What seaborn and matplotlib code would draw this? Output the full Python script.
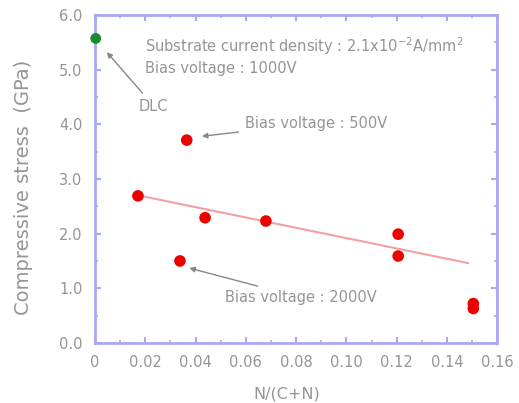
import numpy as np
import pandas as pd
import matplotlib
matplotlib.use("Agg")
import matplotlib.pyplot as plt
import seaborn as sns
from matplotlib.ticker import MultipleLocator, FixedLocator

# Data
dlc_x = [0.0003]
dlc_y = [5.57]
red_x = [0.0365, 0.0171, 0.0438, 0.068, 0.1206, 0.1206, 0.0338, 0.1505, 0.1505]
red_y = [3.71, 2.69, 2.29, 2.23, 1.99, 1.59, 1.50, 0.72, 0.63]
trend_x = [0.0171, 0.1485]
trend_y = [2.70, 1.46]
x_ticks = [0, 0.02, 0.04, 0.06, 0.08, 0.10, 0.12, 0.14, 0.16]
x_labels = ["0", "0.02", "0.04", "0.06", "0.08", "0.10", "0.12", "0.14", "0.16"]
y_ticks = [0, 1, 2, 3, 4, 5, 6]
y_labels = ["0.0", "1.0", "2.0", "3.0", "4.0", "5.0", "6.0"]

sns.set_style("white")
plt.rcParams['font.family'] = ['DejaVu Sans']

fig = plt.figure(figsize=(5.19, 4.03), dpi=100)
ax = fig.add_axes([0.183, 0.149, 0.775, 0.814])

spine_c = "#a8a8f4"
text_c = "#959595"

sns.lineplot(x=trend_x, y=trend_y, ax=ax, color="#f4a0a0", linewidth=1.5)
sns.scatterplot(x=red_x, y=red_y, ax=ax, color="#ee0000", s=70, edgecolor="none", zorder=3)
sns.scatterplot(x=dlc_x, y=dlc_y, ax=ax, color="#1a8a2a", s=60, edgecolor="none", zorder=4, clip_on=False)

ax.set_xlim(0, 0.16)
ax.set_ylim(0, 6)
ax.xaxis.set_major_locator(FixedLocator(x_ticks))
ax.set_xticklabels(x_labels)
ax.yaxis.set_major_locator(FixedLocator(y_ticks))
ax.set_yticklabels(y_labels)
ax.xaxis.set_minor_locator(MultipleLocator(0.01))
ax.yaxis.set_minor_locator(MultipleLocator(0.5))

for s in ax.spines.values():
    s.set_color(spine_c)
    s.set_linewidth(2)
    s.set_visible(True)

ax.tick_params(which="both", direction="in", color=spine_c, top=True, right=True,
               bottom=True, left=True, labelcolor=text_c, labelsize=10.5)
ax.tick_params(which="major", length=4, width=1.5)
ax.tick_params(which="minor", length=2.5, width=1.2)
ax.tick_params(axis="x", pad=9)
ax.tick_params(axis="y", pad=9)

ax.set_xlabel("N/(C+N)", color=text_c, fontsize=11.5)
ax.xaxis.set_label_coords(0.478, -0.132)
ax.set_ylabel("Compressive stress  (GPa)", color=text_c, fontsize=14)
ax.yaxis.set_label_coords(-0.155, 0.475)

tkw = dict(color=text_c, fontsize=10.5)
ax.text(0.0198, 5.33, "Substrate current density : 2.1x10$^{-2}$A/mm$^{2}$", **tkw)
ax.text(0.0198, 4.93, "Bias voltage : 1000V", **tkw)

akw = dict(arrowstyle="-|>", color="#888888", lw=1, mutation_scale=8, shrinkA=2, shrinkB=0)
ax.annotate("DLC", xy=(0.0047, 5.32), xytext=(0.0175, 4.25), fontsize=10.5, color=text_c,
            arrowprops=akw)
ax.annotate("Bias voltage : 500V", xy=(0.0425, 3.78), xytext=(0.0595, 4.02), fontsize=10.5, color=text_c,
            arrowprops=akw, va="center")
ax.annotate("Bias voltage : 2000V", xy=(0.0375, 1.37), xytext=(0.0518, 0.83), fontsize=10.5, color=text_c,
            arrowprops=akw, va="center")

fig.savefig("out.png", dpi=100)
